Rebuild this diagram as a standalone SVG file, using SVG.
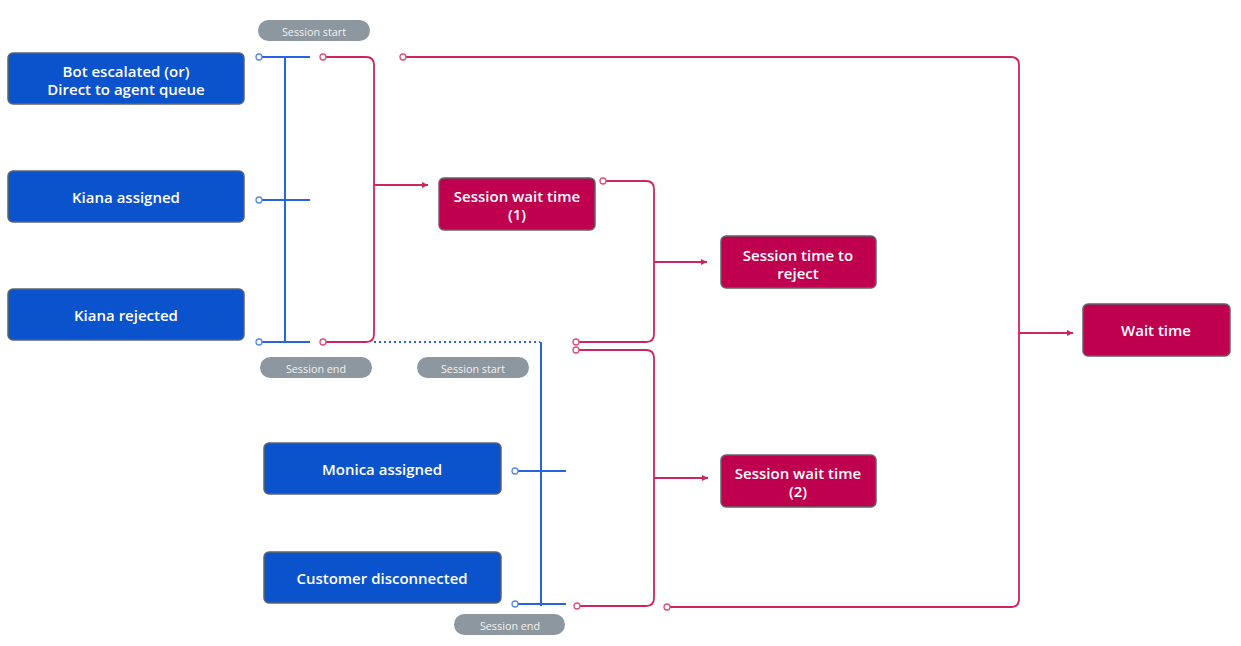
<svg xmlns="http://www.w3.org/2000/svg" width="1241" height="646" viewBox="0 0 1241 646">
<defs>
<style>
.bn{fill:#0B52CD;stroke:#5f6368;stroke-width:1.5}
.pn{fill:#BF004F;stroke:#5f6368;stroke-width:1.5}
.pill{fill:#8D979F}
.t{font-family:"Open Sans","Noto Sans","Liberation Sans",sans-serif;font-size:15px;font-weight:600;fill:#fff;text-anchor:middle;dominant-baseline:central}
.pt{font-family:"Open Sans","Noto Sans","Liberation Sans",sans-serif;font-size:10.8px;fill:#f2f2f2;text-anchor:middle;dominant-baseline:central}
.bl{fill:none;stroke:#2A62E6;stroke-width:2}
.pl{fill:none;stroke:#D0245E;stroke-width:1.8}
.bc{fill:#fff;stroke:#5B86EA;stroke-width:1.3}
.pc{fill:#fff;stroke:#DA4E7E;stroke-width:1.3}
</style>
<marker id="ah" markerUnits="userSpaceOnUse" markerWidth="6" markerHeight="6" refX="6" refY="3" orient="auto">
<path d="M0,0 L6,3 L0,6 z" fill="#D0245E"/>
</marker>
</defs>
<rect width="1241" height="646" fill="#fff"/>

<g id="connectors">
<path class="bl" d="M262,57 H310 M262,200 H310 M262,342 H310 M285,57 V342"/>
<path class="bl" d="M374,342 H540" stroke-dasharray="2,3"/>
<path class="bl" d="M541,342 V606 M518,471 H566 M518,604 H566"/>
<circle class="bc" cx="259" cy="57" r="3"/>
<circle class="bc" cx="259" cy="200" r="3"/>
<circle class="bc" cx="259" cy="342" r="3"/>
<circle class="bc" cx="515" cy="471" r="3"/>
<circle class="bc" cx="515" cy="604" r="3"/>

<path class="pl" d="M326,57 H366 Q374,57 374,65 V334 Q374,342 366,342 H326"/>
<path class="pl" d="M374,185 H428" marker-end="url(#ah)"/>
<path class="pl" d="M406,57 H1011 Q1019,57 1019,65 V599 Q1019,607 1011,607 H670"/>
<path class="pl" d="M1019,333 H1073" marker-end="url(#ah)"/>
<path class="pl" d="M606,181 H646 Q654,181 654,189 V334 Q654,342 646,342 H579"/>
<path class="pl" d="M654,262 H707" marker-end="url(#ah)"/>
<path class="pl" d="M579,350 H646 Q654,350 654,358 V598 Q654,606 646,606 H580"/>
<path class="pl" d="M654,478 H708" marker-end="url(#ah)"/>
<circle class="pc" cx="323" cy="57" r="3"/>
<circle class="pc" cx="323" cy="342" r="3"/>
<circle class="pc" cx="403" cy="57" r="3"/>
<circle class="pc" cx="667" cy="607" r="3"/>
<circle class="pc" cx="603" cy="181" r="3"/>
<circle class="pc" cx="576" cy="342" r="3"/>
<circle class="pc" cx="576" cy="350" r="3"/>
<circle class="pc" cx="577" cy="606" r="3"/>
</g>

<g id="pill-start-1"><rect class="pill" x="258" y="20" width="112" height="21" rx="10.5"/><text class="pt" x="314" y="31">Session start</text></g>
<g id="pill-end-1"><rect class="pill" x="260" y="357" width="112" height="21" rx="10.5"/><text class="pt" x="316" y="368">Session end</text></g>
<g id="pill-start-2"><rect class="pill" x="417" y="357" width="112" height="21" rx="10.5"/><text class="pt" x="473" y="368">Session start</text></g>
<g id="pill-end-2"><rect class="pill" x="454" y="614" width="111" height="21" rx="10.5"/><text class="pt" x="510" y="625">Session end</text></g>

<g id="bot-escalated"><rect class="bn" x="8" y="53" width="236" height="51" rx="5"/><text class="t" x="126" y="70.5">Bot escalated (or)<tspan x="126" dy="18">Direct to agent queue</tspan></text></g>
<g id="kiana-assigned"><rect class="bn" x="8" y="171" width="236" height="51" rx="5"/><text class="t" x="126" y="197">Kiana assigned</text></g>
<g id="kiana-rejected"><rect class="bn" x="8" y="289" width="236" height="51" rx="5"/><text class="t" x="126" y="315">Kiana rejected</text></g>
<g id="monica-assigned"><rect class="bn" x="264" y="443" width="237" height="51" rx="5"/><text class="t" x="382" y="469">Monica assigned</text></g>
<g id="customer-disconnected"><rect class="bn" x="264" y="552" width="237" height="51" rx="5"/><text class="t" x="382" y="578">Customer disconnected</text></g>

<g id="session-wait-1"><rect class="pn" x="439" y="178" width="156" height="52" rx="5"/><text class="t" x="517" y="195.5">Session wait time<tspan x="517" dy="18">(1)</tspan></text></g>
<g id="session-time-reject"><rect class="pn" x="721" y="236" width="155" height="52" rx="5"/><text class="t" x="798" y="255">Session time to<tspan x="798" dy="18">reject</tspan></text></g>
<g id="session-wait-2"><rect class="pn" x="721" y="455" width="155" height="52" rx="5"/><text class="t" x="798" y="473">Session wait time<tspan x="798" dy="18">(2)</tspan></text></g>
<g id="wait-time"><rect class="pn" x="1083" y="304" width="147" height="52" rx="5"/><text class="t" x="1156" y="330">Wait time</text></g>
</svg>
